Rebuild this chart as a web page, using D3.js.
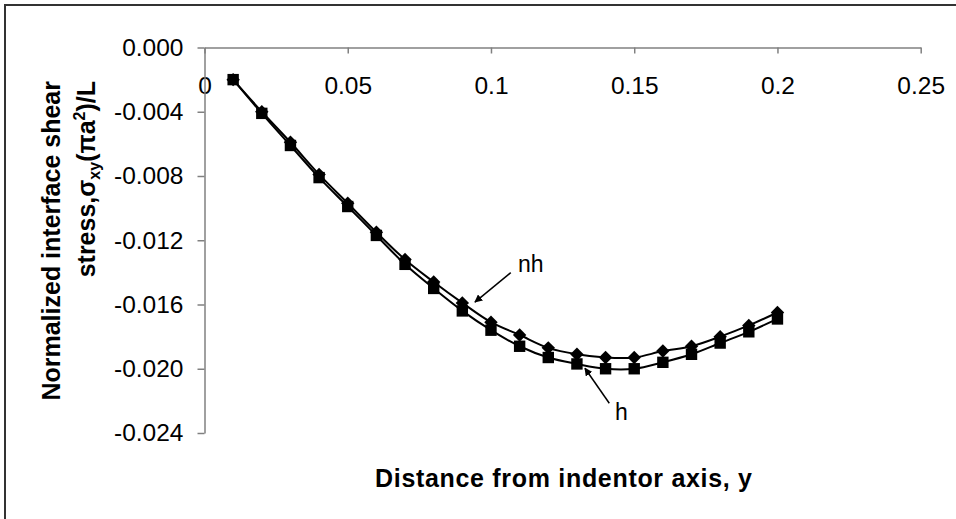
<!DOCTYPE html>
<html lang="en">
<head>
<meta charset="UTF-8">
<title>Interface shear stress</title>
<script src="https://cdn.jsdelivr.net/npm/d3@7"></script>
<style>
  body { margin: 0; background: #fff; }
  svg { display: block; font-family: "Liberation Sans", Arial, sans-serif; }
</style>
</head>
<body>
<script>
// distance from indentor axis, y
const distance = [0.01, 0.02, 0.03, 0.04, 0.05, 0.06, 0.07, 0.08, 0.09, 0.10,
                  0.11, 0.12, 0.13, 0.14, 0.15, 0.16, 0.17, 0.18, 0.19, 0.20]
// normalized interface shear stress, non-homogeneous (diamonds)
const nhValues = [-0.0020, -0.0040, -0.0059, -0.0079, -0.0097, -0.0115, -0.0132, -0.0146, -0.0159, -0.0171,
                  -0.0179, -0.0187, -0.0191, -0.0193, -0.0193, -0.0189, -0.0186, -0.0180, -0.0173, -0.0165]
// homogeneous (squares)
const hValues = [-0.0020, -0.0041, -0.0061, -0.0081, -0.0099, -0.0117, -0.0135, -0.0150, -0.0164, -0.0176,
                 -0.0186, -0.0193, -0.0197, -0.0200, -0.0200, -0.0196, -0.0191, -0.0184, -0.0177, -0.0169]

const xTicks = [0, 0.05, 0.1, 0.15, 0.2, 0.25]
const xTickLabels = ['0', '0.05', '0.1', '0.15', '0.2', '0.25']
const yTicks = [0, -0.004, -0.008, -0.012, -0.016, -0.020, -0.024]

// label + arrow (tail -> head) in data units
const notes = [
  { text: 'nh', tx: 0.1094, ty: -0.01396, x1: 0.1069, y1: -0.01402, x2: 0.0944, y2: -0.01585 },
  { text: 'h', tx: 0.1433, ty: -0.02319, x1: 0.1413, y1: -0.02215, x2: 0.1328, y2: -0.01997 }
]

const width = 956
const height = 519

const svg = d3.select('body').append('svg')
  .attr('width', width)
  .attr('height', height)

svg.append('defs').append('marker')
  .attr('id', 'arrow')
  .attr('viewBox', '0 0 10 10')
  .attr('refX', 9).attr('refY', 5)
  .attr('markerWidth', 8).attr('markerHeight', 8)
  .attr('markerUnits', 'userSpaceOnUse')
  .attr('orient', 'auto')
  .append('path')
  .attr('d', 'M0,0 L10,5 L0,10 z')
  .attr('fill', '#000')

// frame (only top and left edges show)
svg.append('path')
  .attr('d', `M5,${height} L5,5 L${width},5`)
  .attr('fill', 'none')
  .attr('stroke', '#333')
  .attr('stroke-width', 2)

const x = d3.scaleLinear().domain([0, 0.25]).range([204.5, 920.7])
const y = d3.scaleLinear().domain([0, -0.024]).range([47.5, 433])

const fmt = d3.formatLocale({ decimal: '.', thousands: ',', grouping: [3], currency: ['', ''], minus: '-' }).format('.3f')

// x axis sits at y = 0 (top of plot)
const xAxis = svg.append('g')
  .attr('transform', `translate(0,${y(0)})`)
  .call(d3.axisBottom(x).tickValues(xTicks)
    .tickFormat((d, i) => xTickLabels[i])
    .tickSize(6).tickPadding(23).tickSizeOuter(0))

const yAxis = svg.append('g')
  .attr('transform', `translate(${x(0)},0)`)
  .call(d3.axisLeft(y).tickValues(yTicks)
    .tickFormat(fmt)
    .tickSize(7).tickPadding(14).tickSizeOuter(0))

svg.selectAll('.domain, .tick line')
  .attr('stroke', '#808080')
  .attr('stroke-width', 1.5)
svg.selectAll('.tick text')
  .attr('font-size', 24.5)
  .attr('font-family', '"Liberation Sans", Arial, sans-serif')
  .attr('fill', '#000')

// series
const line = d3.line()
  .x((d) => x(d[0]))
  .y((d) => y(d[1]))
  .curve(d3.curveCatmullRom.alpha(0.5))

const hData = distance.map((d, i) => [d, hValues[i]])
const nhData = distance.map((d, i) => [d, nhValues[i]])

svg.append('path')
  .datum(hData)
  .attr('d', line)
  .attr('fill', 'none')
  .attr('stroke', '#000')
  .attr('stroke-width', 2)

svg.append('path')
  .datum(nhData)
  .attr('d', line)
  .attr('fill', 'none')
  .attr('stroke', '#000')
  .attr('stroke-width', 2)

svg.append('g').selectAll('path')
  .data(hData)
  .enter()
  .append('path')
  .attr('d', d3.symbol(d3.symbolSquare, 130))
  .attr('transform', (d) => `translate(${x(d[0])},${y(d[1])})`)
  .attr('fill', '#000')

svg.append('g').selectAll('path')
  .data(nhData)
  .enter()
  .append('path')
  .attr('d', d3.symbol(d3.symbolSquare, 90))
  .attr('transform', (d) => `translate(${x(d[0])},${y(d[1])}) rotate(45)`)
  .attr('fill', '#000')

// annotations
notes.forEach((n) => {
  svg.append('line')
    .attr('x1', x(n.x1)).attr('y1', y(n.y1))
    .attr('x2', x(n.x2)).attr('y2', y(n.y2))
    .attr('stroke', '#000')
    .attr('stroke-width', 1.5)
    .attr('marker-end', 'url(#arrow)')
  svg.append('text')
    .attr('x', x(n.tx)).attr('y', y(n.ty))
    .attr('font-size', 23)
    .text(n.text)
})

// axis titles
svg.append('text')
  .attr('x', 563.5)
  .attr('y', 486.5)
  .attr('text-anchor', 'middle')
  .attr('font-size', 25)
  .attr('font-weight', 'bold')
  .attr('textLength', 377)
  .attr('lengthAdjust', 'spacing')
  .text('Distance from indentor axis, y')

svg.append('text')
  .attr('transform', 'translate(60,81) rotate(-90)')
  .attr('text-anchor', 'end')
  .attr('font-size', 25)
  .attr('font-weight', 'bold')
  .text('Normalized interface shear')

const t2 = svg.append('text')
  .attr('transform', 'translate(95,81) rotate(-90)')
  .attr('text-anchor', 'end')
  .attr('font-size', 25)
  .attr('font-weight', 'bold')
t2.append('tspan').text('stress,σ')
t2.append('tspan').attr('font-size', 16).attr('dy', 5).text('xy')
t2.append('tspan').attr('dy', -5).text('(πa')
t2.append('tspan').attr('font-size', 16).attr('dy', -10).text('2')
t2.append('tspan').attr('dy', 10).text(')/L')
</script>
</body>
</html>
